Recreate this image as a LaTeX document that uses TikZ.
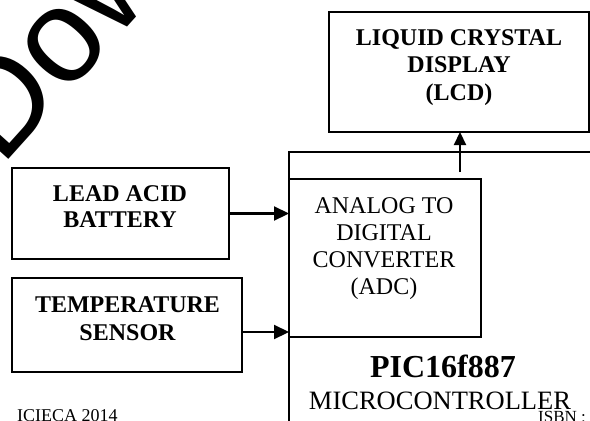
\documentclass[tikz,border=0pt]{standalone}
\usepackage{fontspec}
\setmainfont{Liberation Serif}
\newfontfamily\wmfont{Liberation Sans}
\usetikzlibrary{arrows.meta}
\tikzset{
  box/.style={draw, line width=1.5pt, inner sep=0pt, outer sep=0pt},
  btext/.style={inner sep=0pt, anchor=north, align=center, font=\fontsize{24}{27}\selectfont\bfseries},
  rtext/.style={inner sep=0pt, anchor=north, align=center, font=\fontsize{24}{27}\selectfont},
  arr/.style={line width=2.2pt, -{Triangle[length=15pt,width=14pt]}},
  foot/.style={inner sep=0pt, anchor=base west, font=\fontsize{18}{18}\selectfont}
}
\begin{document}
\begin{tikzpicture}[x=1pt,y=-1pt]
\useasboundingbox (0,0) rectangle (590,421);
% watermark
\node[inner sep=0pt, anchor=base west, rotate=48, font=\fontsize{133}{133}\selectfont\wmfont] (wm) at (1,168) {Down};
% boxes
\node[box, minimum width=260pt, minimum height=120pt] (lcd) at (459,72) {};
\node[box, minimum width=217pt, minimum height=91pt] (bat) at (120.5,213.5) {};
\node[box, minimum width=230pt, minimum height=94pt] (temp) at (127,325) {};
\node[box, minimum width=411pt, minimum height=448pt] (mcu) at (494.5,376) {};
\node[box, minimum width=192pt, minimum height=158pt] (adc) at (385,258) {};
% texts
\node[btext, font=\fontsize{24}{27.5}\selectfont\bfseries] (lcdt) at (459,29) {LIQUID CRYSTAL\\DISPLAY\\(LCD)};
\node[btext, font=\fontsize{24}{26}\selectfont\bfseries] (batt) at (120,185) {LEAD ACID\\BATTERY};
\node[btext, font=\fontsize{24}{28}\selectfont\bfseries] (tempt) at (127.5,296) {TEMPERATURE\\SENSOR};
\node[rtext] (adct) at (384,197) {ANALOG TO\\DIGITAL\\CONVERTER\\(ADC)};
\node[inner sep=0pt, anchor=base, font=\fontsize{32}{32}\selectfont\bfseries] (pic) at (443,377) {PIC16f887};
\node[inner sep=0pt, anchor=base, font=\fontsize{26.5}{26.5}\selectfont] (mct) at (440,409) {MICROCONTROLLER};
\node[foot] (conf) at (17,421) {ICIECA 2014};
\node[foot, font=\fontsize{17}{17}\selectfont] (isbn) at (538,422) {ISBN :};
% connectors
\coordinate (bout) at (bat.east);
\draw[arr] (bout) -- (bout -| mcu.west);
\coordinate (tout) at ([yshift=-7pt]temp.east);
\draw[arr] (tout) -- (tout -| mcu.west);
\coordinate (mout) at (460,172);
\draw[arr, -{Triangle[length=13pt,width=12pt]}] (mout) -- (mout |- lcd.south);
\end{tikzpicture}
\end{document}
